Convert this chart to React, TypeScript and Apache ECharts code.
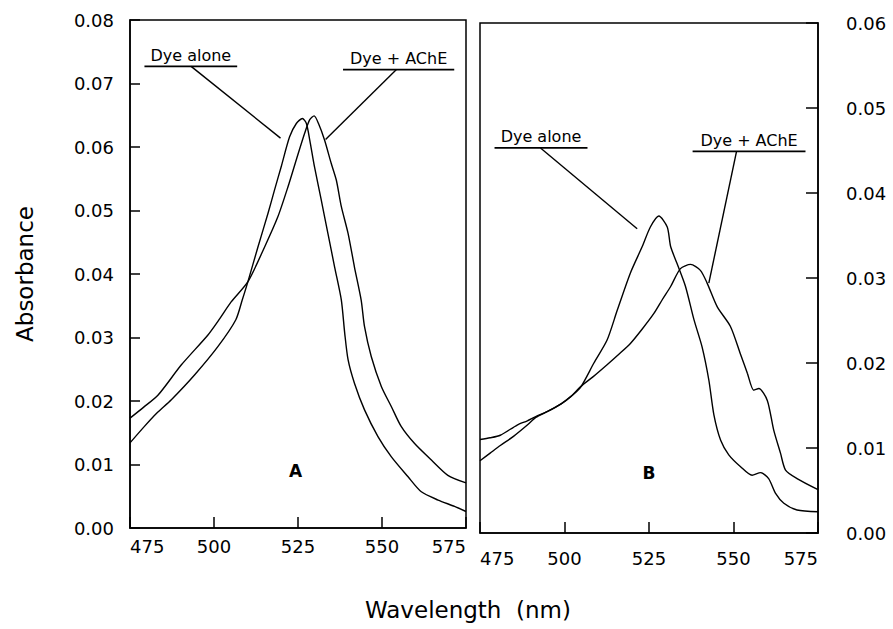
import React, { useEffect, useRef } from "react";
import * as echarts from "echarts";

// ---------- Data ----------
const xTicks = [475, 500, 525, 550, 575];

// Panel A (left, y 0..0.08)
const aDyeAlone: [number, number][] = [
  [475, 0.0134], [479.3, 0.016], [483, 0.0181], [487.3, 0.0202], [494.2, 0.0241],
  [501.2, 0.0286], [506.5, 0.0328], [508.4, 0.0359], [510.1, 0.0388], [513.1, 0.0443],
  [516.1, 0.0496], [518.0, 0.0532], [520.0, 0.0569], [522.5, 0.0616], [524.5, 0.0637],
  [526.3, 0.0645], [527.5, 0.0637], [528.5, 0.0611], [529.9, 0.0569], [531.9, 0.0517],
  [533.9, 0.0464], [535.9, 0.0411], [537.9, 0.0359], [538.9, 0.0307], [539.9, 0.0265],
  [541.8, 0.0228], [544.8, 0.0186], [548.8, 0.0144], [552.8, 0.0112], [557.7, 0.0081],
  [561.7, 0.0057], [566.7, 0.0044], [571.6, 0.0034], [575, 0.0026],
];
const aDyeAChE: [number, number][] = [
  [475, 0.0173], [479, 0.019], [483.3, 0.0209], [490.3, 0.0257], [498.2, 0.0304],
  [501.5, 0.0328], [505.1, 0.0356], [510.1, 0.0388], [515.1, 0.0443], [519.0, 0.049],
  [522.0, 0.0537], [524.5, 0.058], [527.0, 0.0622], [528.5, 0.0643], [529.8, 0.0649],
  [531.1, 0.0637], [532.9, 0.0611], [534.9, 0.0574], [536.4, 0.0548], [537.9, 0.0506],
  [539.9, 0.0464], [541.8, 0.0411], [543.8, 0.0359], [544.8, 0.0317], [546.8, 0.027],
  [549.8, 0.0223], [552.8, 0.0191], [555.7, 0.016], [559.7, 0.0133], [564.7, 0.0107],
  [569.6, 0.0083], [575, 0.0071],
];

// Panel B (right, y 0..0.06)
const bDyeAlone: [number, number][] = [
  [475, 0.0085], [478, 0.0094], [481, 0.0103], [485, 0.0114], [489, 0.0127],
  [491.5, 0.0136], [495, 0.0143], [499, 0.0152], [502, 0.0161], [504.7, 0.0171],
  [508.7, 0.02], [512.6, 0.0227], [515.6, 0.0262], [519.5, 0.0306], [523, 0.0337],
  [525.4, 0.036], [527.9, 0.0373], [530.4, 0.036], [531.4, 0.0337], [533.3, 0.0317],
  [535.8, 0.029], [538.3, 0.0251], [540.7, 0.0219], [542.7, 0.018], [544.2, 0.0139],
  [546.2, 0.0109], [548.6, 0.0092], [552.1, 0.0078], [555.5, 0.0068], [558, 0.0071],
  [560.4, 0.0064], [562.4, 0.0047], [564.9, 0.0035], [568.8, 0.0027], [575, 0.0025],
];
const bDyeAChE: [number, number][] = [
  [475, 0.011], [478, 0.0112], [481, 0.0115], [486, 0.0127], [489, 0.0132],
  [491.5, 0.0137], [495, 0.0143], [499, 0.0152], [502, 0.0161], [504.7, 0.0172],
  [508.5, 0.0184], [512.6, 0.0198], [516, 0.021], [519.5, 0.0223], [523, 0.024],
  [526.4, 0.0258], [529, 0.0275], [531.4, 0.029], [534.3, 0.0311], [537.3, 0.0316],
  [540.2, 0.0309], [542.2, 0.0294], [545.2, 0.0266], [549.1, 0.0243], [552.1, 0.021],
  [554.1, 0.0188], [556, 0.0168], [557.5, 0.017], [560, 0.0156], [561.9, 0.0121],
  [563.9, 0.0094], [565.4, 0.0074], [568.8, 0.0064], [575, 0.0051],
];

// Annotations (data coordinates)
const annotA = [
  { label: "Dye alone", from: 479.3, to: 506.9, y: 0.0727, pointer: [[493.2, 0.0727], [519.8, 0.0614]] },
  { label: "Dye + AChE", from: 538.4, to: 571.5, y: 0.0722, pointer: [[554.3, 0.0722], [533.2, 0.0612]] },
];
const annotB = [
  { label: "Dye alone", from: 479.3, to: 506.8, y: 0.0453, pointer: [[492.9, 0.0453], [521.5, 0.0358]] },
  { label: "Dye + AChE", from: 537.9, to: 571.3, y: 0.0449, pointer: [[550.9, 0.0449], [542.7, 0.0294]] },
];
const panelLetters = [
  { text: "A", grid: 0, at: [524.3, 0.009] },
  { text: "B", grid: 1, at: [525, 0.0071] },
];

const FONT = "DejaVu Sans";

export default function App() {
  const ref = useRef<HTMLDivElement>(null);
  useEffect(() => {
    if (!ref.current) return;
    const chart = echarts.init(ref.current, null, { renderer: "svg" });
    const xAxisBase = (gridIndex: number, margin: number) => ({
      type: "value",
      gridIndex,
      min: 475,
      max: 575,
      interval: 25,
      axisLine: { show: true, onZero: false, lineStyle: { color: "#000", width: 1.5 } },
      axisTick: { show: true, inside: true, length: 11, lineStyle: { color: "#000", width: 1.5 } },
      axisLabel: {
        color: "#000", fontSize: 18, fontFamily: FONT, margin,
        alignMinLabel: "left", alignMaxLabel: "right",
        formatter: (v: number) => (xTicks.includes(v) ? String(v) : ""),
      },
      splitLine: { show: false },
    });
    const lineSeries = (name: string, data: [number, number][], idx: number) => ({
      name,
      type: "line",
      xAxisIndex: idx,
      yAxisIndex: idx,
      data,
      smooth: 0.25,
      showSymbol: false,
      symbol: "none",
      lineStyle: { color: "#000", width: 1.4 },
      silent: true,
    });
    chart.setOption({
      animation: false,
      backgroundColor: "#fff",
      grid: [
        { left: 130, top: 20, width: 336, height: 508, show: true, borderColor: "#000", borderWidth: 1.5, backgroundColor: "transparent" },
        { left: 480, top: 23, width: 338, height: 510, show: true, borderColor: "#000", borderWidth: 1.5, backgroundColor: "transparent" },
      ],
      xAxis: [xAxisBase(0, 9), xAxisBase(1, 16)],
      yAxis: [
        {
          type: "value", gridIndex: 0, position: "left", min: 0, max: 0.08, interval: 0.01,
          axisLine: { show: true, lineStyle: { color: "#000", width: 1.5 } },
          axisTick: { show: true, inside: true, length: 10, lineStyle: { color: "#000", width: 1.5 } },
          axisLabel: { color: "#000", fontSize: 18, fontFamily: FONT, margin: 16, formatter: (v: number) => v.toFixed(2) },
          splitLine: { show: false },
        },
        {
          type: "value", gridIndex: 1, position: "right", min: 0, max: 0.06, interval: 0.01,
          axisLine: { show: true, lineStyle: { color: "#000", width: 1.5 } },
          axisTick: { show: true, inside: true, length: 12, lineStyle: { color: "#000", width: 1.5 } },
          axisLabel: { color: "#000", fontSize: 18, fontFamily: FONT, margin: 28, formatter: (v: number) => v.toFixed(2) },
          splitLine: { show: false },
        },
      ],
      series: [
        lineSeries("Dye alone (A)", aDyeAlone, 0),
        lineSeries("Dye + AChE (A)", aDyeAChE, 0),
        lineSeries("Dye alone (B)", bDyeAlone, 1),
        lineSeries("Dye + AChE (B)", bDyeAChE, 1),
      ],
    });

    const graphics: any[] = [];
    const addAnnots = (list: typeof annotA, gridIndex: number) => {
      list.forEach((a) => {
        const p1 = chart.convertToPixel({ gridIndex }, [a.from, a.y]) as number[];
        const p2 = chart.convertToPixel({ gridIndex }, [a.to, a.y]) as number[];
        const q1 = chart.convertToPixel({ gridIndex }, a.pointer[0]) as number[];
        const q2 = chart.convertToPixel({ gridIndex }, a.pointer[1]) as number[];
        graphics.push({
          type: "line", shape: { x1: p1[0], y1: p1[1], x2: p2[0], y2: p2[1] },
          style: { stroke: "#000", lineWidth: 1.8 }, silent: true,
        });
        graphics.push({
          type: "line", shape: { x1: q1[0], y1: q1[1], x2: q2[0], y2: q2[1] },
          style: { stroke: "#000", lineWidth: 1.4 }, silent: true,
        });
        graphics.push({
          type: "text", x: (p1[0] + p2[0]) / 2, y: p1[1] - 3,
          style: { text: a.label, fill: "#000", font: `16px "${FONT}"`, textAlign: "center", textVerticalAlign: "bottom" },
          silent: true,
        });
      });
    };
    addAnnots(annotA, 0);
    addAnnots(annotB, 1);
    panelLetters.forEach((l) => {
      const p = chart.convertToPixel({ gridIndex: l.grid }, l.at) as number[];
      graphics.push({
        type: "text", x: p[0], y: p[1],
        style: { text: l.text, fill: "#000", font: `bold 17px "${FONT}"`, textAlign: "center", textVerticalAlign: "middle" },
        silent: true,
      });
    });
    graphics.push({
      type: "text", x: 25, y: 274, rotation: Math.PI / 2,
      style: { text: "Absorbance", fill: "#000", font: `23px "${FONT}"`, textAlign: "center", textVerticalAlign: "middle" },
      silent: true,
    });
    graphics.push({
      type: "text", x: 468, y: 610,
      style: { text: "Wavelength  (nm)", fill: "#000", font: `23px "${FONT}"`, textAlign: "center", textVerticalAlign: "middle" },
      silent: true,
    });
    chart.setOption({ graphic: graphics });

    return () => chart.dispose();
  }, []);
  return (
    <div
      ref={ref}
      style={{ position: "fixed", left: 0, top: 0, width: 893, height: 629, background: "#fff" }}
    />
  );
}
